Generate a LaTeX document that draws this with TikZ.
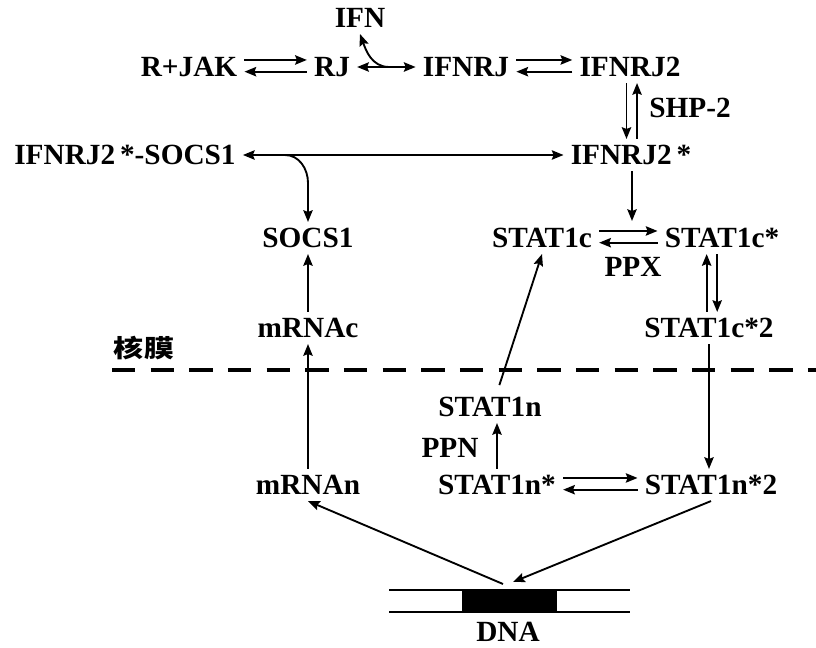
\documentclass[tikz,border=0pt]{standalone}
\usepackage{fontspec}
\setmainfont{Liberation Serif}
\newfontfamily\cjk{Noto Sans CJK SC}
\usetikzlibrary{positioning,arrows,arrows.meta}
\tikzset{
    species/.style={
        inner xsep=6pt,
        inner ysep=5pt,
        text height=17pt,
        text depth=0pt,
        font=\fontsize{25}{30}\selectfont\bfseries
    },
    arrow/.style={
        ->,
        >={Stealth[length=10pt,width=8pt,inset=1.5pt]},
        line width=1.6pt
    },
    twoway/.style={
        arrow,
        <->
    }
}

\begin{document}
\begin{tikzpicture}[x=0.03cm, y=-0.03cm]
    \useasboundingbox (0,0) rectangle (816,648);
    % receptor side
    \node (ifn) [species] at (360,18) {IFN};
    \node (rjak) [species] at (189,67) {R+JAK};
    \node (rj) [species] at (332,67) {RJ};
    \node (ifnrj) [species] at (466,67) {IFNRJ};
    \node (ifnrjtwo) [species] at (630,67) {IFNRJ2};
    \node (shp) [species] at (690,108) {SHP-2};
    \node (ifnrjstar) [species] at (631,155) {IFNRJ2\,*};
    \node (complex) [species] at (125,155) {IFNRJ2\,*-SOCS1};
    \node (socs) [species] at (308,238) {SOCS1};
    \node (statc) [species] at (542,238) {STAT1c};
    \node (statcstar) [species] at (722,238) {STAT1c*};
    \node (ppx) [species] at (633,267) {PPX};
    \node (statctwo) [species] at (709,328) {STAT1c*2};
    \node (mrnac) [species] at (308,328) {mRNAc};
    % nucleus side
    \node (membrane) [font=\fontsize{21}{24}\selectfont\cjk\bfseries] at (144,348) {\scalebox{1.22}[1]{核膜}};
    \node (statn) [species] at (490,407) {STAT1n};
    \node (ppn) [species] at (450,448) {PPN};
    \node (statnstar) [species] at (497,485) {STAT1n*};
    \node (statntwo) [species] at (711,485) {STAT1n*2};
    \node (mrnan) [species] at (308,485) {mRNAn};
    \node (dna) [species] at (508,632) {DNA};

    \coordinate (bindifn) at (389,67);
    \coordinate (bindsocs) at (285,155);
    \coordinate (phos) at (632,221);
    \coordinate (dnaleft) at (503,584);
    \coordinate (dnaright) at (513,582);

    % nuclear membrane
    \draw [line width=3.4pt, dash pattern=on 20pt off 13pt] (112,370) -- (816,370);

    % DNA strand with gene
    \draw [line width=1.1pt] (389,590) -- (630,590) (389,612) -- (630,612);
    \fill (462,590) rectangle (557,612);

    \draw [arrow] ([yshift=6pt]rjak.east) -- ([yshift=6pt]rj.west);
    \draw [arrow] ([yshift=-4pt]rj.west) -- ([yshift=-4pt]rjak.east);
    \draw [twoway] (rj) -- (ifnrj);
    \draw [arrow] (bindifn) to[out=180,in=-70] (ifn.south);
    \draw [arrow] ([yshift=6pt]ifnrj.east) -- ([yshift=6pt]ifnrjtwo.west);
    \draw [arrow] ([yshift=-4pt]ifnrjtwo.west) -- ([yshift=-4pt]ifnrj.east);
    \draw [arrow] ([xshift=-3pt]ifnrjtwo.south) -- ([xshift=-3pt]ifnrjtwo.south |- ifnrjstar.north);
    \draw [arrow] ([xshift=6pt]ifnrjtwo.south |- ifnrjstar.north) -- ([xshift=6pt]ifnrjtwo.south);
    \draw [twoway] (ifnrjstar) -- (complex);
    \draw [arrow] (bindsocs) to[out=0,in=90] ++(23,28) -- (socs.north);
    \draw [arrow] (ifnrjstar.south -| phos) -- (phos);
    \draw [arrow] ([yshift=6pt]statc.east) -- ([yshift=6pt]statcstar.west);
    \draw [arrow] ([yshift=-4pt]statcstar.west) -- ([yshift=-4pt]statc.east);
    \draw [arrow] ([xshift=-2pt]statctwo.north) -- ([xshift=-2pt]statctwo.north |- statcstar.south);
    \draw [arrow] ([xshift=7pt]statctwo.north |- statcstar.south) -- ([xshift=7pt]statctwo.north);
    \draw [arrow] (mrnac) -- (socs);
    \draw [arrow] (mrnan) -- (mrnac);
    \draw [arrow] (statctwo.south) -- (statctwo.south |- statntwo.north);
    \draw [arrow] ([xshift=8pt,yshift=5pt]statn.north) -- (statc.south);
    \draw [arrow] (statnstar.north) -- (statnstar.north |- statn.south);
    \draw [arrow] ([yshift=6pt]statnstar.east) -- ([yshift=6pt]statntwo.west);
    \draw [arrow] ([yshift=-4pt]statntwo.west) -- ([yshift=-4pt]statnstar.east);
    \draw [arrow] (dnaleft) -- (mrnan.south);
    \draw [arrow] (statntwo.south) -- (dnaright);
\end{tikzpicture}
\end{document}
